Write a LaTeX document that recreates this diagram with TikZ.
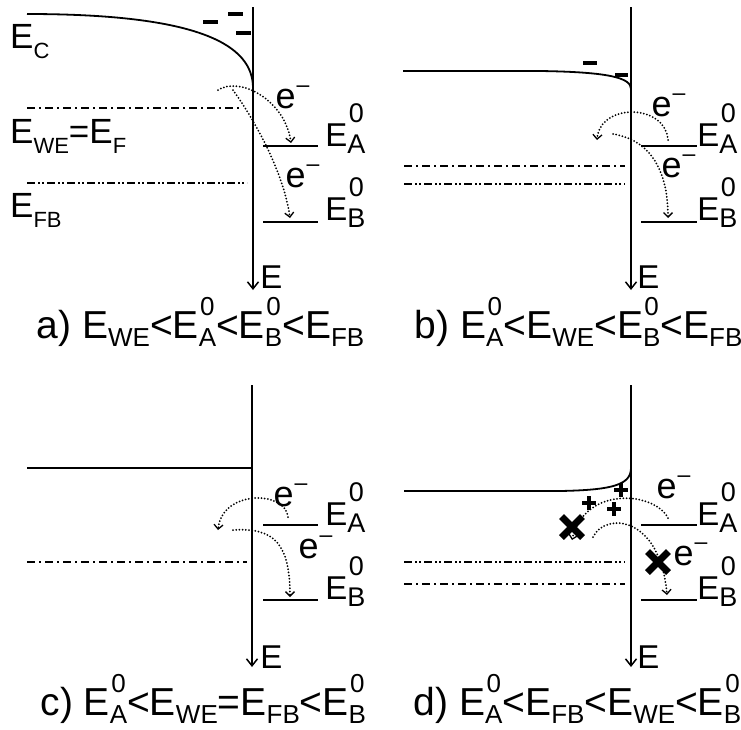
\documentclass[tikz,border=0pt]{standalone}
\usepackage{fontspec}
\setmainfont{Liberation Sans}
\usetikzlibrary{arrows.meta}

\newsavebox\subbox
\newcommand\SupSub[5]{\sbox\subbox{\fontsize{#1}{#1}\selectfont #3}%
\rlap{\makebox[\wd\subbox][c]{\raisebox{#4}{\fontsize{#1}{#1}\selectfont #2}}}%
\raisebox{-#5}{\usebox\subbox}}
\newcommand\bsub[1]{\raisebox{-10pt}{\fontsize{22}{22}\selectfont #1}}
\newcommand\csub[1]{\raisebox{-8pt}{\fontsize{26}{26}\selectfont #1}}
\newcommand\csupsub[2]{\SupSub{26}{#1}{#2}{23pt}{8pt}}
\newcommand\lsupsub[2]{\SupSub{27}{#1}{#2}{24pt}{7pt}}
\newcommand\eminus{e\hspace{1pt}\raisebox{16pt}{\fontsize{23}{23}\selectfont –}}

\tikzset{
  axisline/.style={line width=1.8pt,-{Straight Barb[length=7pt,width=11pt,line width=1.5pt]}},
  band/.style={line width=1.8pt},
  level/.style={line width=1.5pt},
  dashdot/.style={line width=1.4pt,dash pattern=on 8pt off 4pt on 2pt off 4pt},
  dashdotdot/.style={line width=1.4pt,dash pattern=on 8pt off 3pt on 2pt off 2pt on 2pt off 3pt},
  hop/.style={line width=2pt,line cap=round,dash pattern=on 0pt off 3.2pt,
    -{Straight Barb[length=4.5pt,width=9pt,line width=1.3pt]}},
  charge/.style={line width=3.6pt},
  pluscharge/.style={line width=4pt},
  cross/.style={line width=7pt},
  txt/.style={anchor=base west,inner sep=0pt,outer sep=0pt},
  biglab/.style={txt,font=\fontsize{35}{40}\selectfont},
  lvllab/.style={txt,font=\fontsize{33}{36}\selectfont},
  axlab/.style={txt,font=\fontsize{33}{36}\selectfont},
  elab/.style={txt,font=\fontsize{36}{40}\selectfont},
  caplab/.style={txt,font=\fontsize{39}{44}\selectfont},
}

\begin{document}
\begin{tikzpicture}[x=1pt,y=-1pt]
\useasboundingbox (0,0) rectangle (741,729);

% ---------------- panel a ----------------
\coordinate (aT) at (253,7); \coordinate (aB) at (253,290);
\draw[axisline] (aT) -- (aB);
\node[axlab] (aE) at (260.4,288) {E};
\coordinate (aC0) at (27,14); \coordinate (aC1) at (253,88);
\draw[band] (aC0) .. controls (200,14) and (253,45) .. (aC1);
\draw[charge] (203,22) -- (218,22);
\draw[charge] (228,14) -- (243,14);
\draw[charge] (236,33) -- (251,33);
\coordinate (aW0) at (27,108); \coordinate (aW1) at (240,108);
\draw[dashdot] (aW0) -- (aW1);
\coordinate (aF0) at (27,183); \coordinate (aF1) at (247,183);
\draw[dashdotdot] (aF0) -- (aF1);
\coordinate (aA0) at (263,146); \coordinate (aA1) at (318,146);
\draw[level] (aA0) -- (aA1);
\coordinate (aB0) at (263,222); \coordinate (aB1) at (318,222);
\draw[level] (aB0) -- (aB1);
\node[biglab] (aLC) at (10.2,48) {E\bsub{C}};
\node[biglab] (aLW) at (10.2,143) {E\bsub{WE}=E\bsub{F}};
\node[biglab] (aLF) at (10.2,217) {E\bsub{FB}};
\node[lvllab] (aLA) at (325.4,146) {E\lsupsub{0}{A}};
\node[lvllab] (aLB) at (325.4,220) {E\lsupsub{0}{B}};
\node[elab] (ae1) at (275.6,108) {\eminus};
\node[elab] (ae2) at (285.6,187) {\eminus};
\coordinate (ah1s) at (218,90); \coordinate (ah1e) at (291,143);
\draw[hop] (ah1s) .. controls (240,76) and (285,100) .. (ah1e);
\coordinate (ah2s) at (233,90); \coordinate (ah2e) at (290,218);
\draw[hop] (ah2s) .. controls (258,125) and (284,175) .. (ah2e);
\node[caplab] (acap) at (36.6,338) {a) E\csub{WE}<E\csupsub{0}{A}<E\csupsub{0}{B}<E\csub{FB}};

% ---------------- panel b ----------------
\coordinate (bT) at (631,7); \coordinate (bB) at (631,290);
\draw[axisline] (bT) -- (bB);
\node[axlab] (bE) at (637.4,288) {E};
\coordinate (bC0) at (403,71); \coordinate (bC1) at (631,89);
\draw[band] (bC0) -- (540,71) .. controls (610,72) and (631,78) .. (bC1);
\draw[charge] (583,63) -- (597,63);
\draw[charge] (615,75) -- (628,75);
\coordinate (bW0) at (404,166); \coordinate (bW1) at (625,166);
\draw[dashdot] (bW0) -- (bW1);
\coordinate (bF0) at (404,184); \coordinate (bF1) at (625,184);
\draw[dashdotdot] (bF0) -- (bF1);
\coordinate (bA0) at (641,146); \coordinate (bA1) at (697,146);
\draw[level] (bA0) -- (bA1);
\coordinate (bB0) at (641,222); \coordinate (bB1) at (697,222);
\draw[level] (bB0) -- (bB1);
\node[lvllab] (bLA) at (697.4,146) {E\lsupsub{0}{A}};
\node[lvllab] (bLB) at (697.4,220) {E\lsupsub{0}{B}};
\node[elab] (be1) at (651.6,116) {\eminus};
\node[elab] (be2) at (661.6,177) {\eminus};
\coordinate (bh1s) at (668,140); \coordinate (bh1e) at (597,140);
\draw[hop] (bh1s) .. controls (665,103) and (600,103) .. (bh1e);
\coordinate (bh2s) at (613,134); \coordinate (bh2e) at (668,218);
\draw[hop] (bh2s) .. controls (650,140) and (668,170) .. (bh2e);
\node[caplab] (bcap) at (414.7,338) {b) E\csupsub{0}{A}<E\csub{WE}<E\csupsub{0}{B}<E\csub{FB}};

% ---------------- panel c ----------------
\coordinate (cT) at (252,385); \coordinate (cB) at (252,667);
\draw[axisline] (cT) -- (cB);
\node[axlab] (cE) at (260.4,668) {E};
\coordinate (cC0) at (27,468); \coordinate (cC1) at (252,468);
\draw[band] (cC0) -- (cC1);
\coordinate (cW0) at (27,562); \coordinate (cW1) at (247,562);
\draw[dashdot] (cW0) -- (cW1);
\coordinate (cA0) at (263,525); \coordinate (cA1) at (318,525);
\draw[level] (cA0) -- (cA1);
\coordinate (cB0) at (263,600); \coordinate (cB1) at (318,600);
\draw[level] (cB0) -- (cB1);
\node[lvllab] (cLA) at (325.4,525) {E\lsupsub{0}{A}};
\node[lvllab] (cLB) at (325.4,599) {E\lsupsub{0}{B}};
\node[elab] (ce1) at (273.6,506) {\eminus};
\node[elab] (ce2) at (298.6,558) {\eminus};
\coordinate (ch1s) at (288,517); \coordinate (ch1e) at (218,530);
\draw[hop] (ch1s) .. controls (285,490) and (222,490) .. (ch1e);
\coordinate (ch2s) at (233,530); \coordinate (ch2e) at (290,597);
\draw[hop] (ch2s) .. controls (275,527) and (290,545) .. (ch2e);
\node[caplab] (ccap) at (40.5,715) {c) E\csupsub{0}{A}<E\csub{WE}=E\csub{FB}<E\csupsub{0}{B}};

% ---------------- panel d ----------------
\coordinate (dT) at (631,385); \coordinate (dB) at (631,667);
\draw[axisline] (dT) -- (dB);
\node[axlab] (dE) at (637.4,668) {E};
\coordinate (dC0) at (404,491); \coordinate (dC1) at (631,468);
\draw[band] (dC0) -- (560,491) .. controls (612,490) and (631,485) .. (dC1);
\coordinate (dF0) at (404,562); \coordinate (dF1) at (625,562);
\draw[dashdotdot] (dF0) -- (dF1);
\coordinate (dW0) at (404,584); \coordinate (dW1) at (625,584);
\draw[dashdot] (dW0) -- (dW1);
\coordinate (dA0) at (641,525); \coordinate (dA1) at (697,525);
\draw[level] (dA0) -- (dA1);
\coordinate (dB0) at (641,600); \coordinate (dB1) at (697,600);
\draw[level] (dB0) -- (dB1);
\node[lvllab] (dLA) at (697.4,525) {E\lsupsub{0}{A}};
\node[lvllab] (dLB) at (697.4,599) {E\lsupsub{0}{B}};
\node[elab] (de1) at (656.6,498) {\eminus};
\node[elab] (de2) at (673.6,565) {\eminus};
\coordinate (dh1s) at (668,518); \coordinate (dh1e) at (572,540);
\draw[hop] (dh1s) .. controls (655,492) and (585,485) .. (dh1e);
\coordinate (dh2s) at (593,537); \coordinate (dh2e) at (667,595);
\draw[hop] (dh2s) .. controls (605,512) and (660,515) .. (dh2e);
% plus charges
\foreach \px/\py in {621/490,589/503,614/509}{
  \draw[pluscharge] (\px-7,\py) -- (\px+7,\py);
  \draw[pluscharge] (\px,\py-7) -- (\px,\py+7);
}
% blocked marks
\foreach \cx/\cy in {572/527,658/562}{
  \draw[cross] (\cx-10.5,\cy-10.5) -- (\cx+10.5,\cy+10.5);
  \draw[cross] (\cx-10.5,\cy+10.5) -- (\cx+10.5,\cy-10.5);
}
\node[caplab] (dcap) at (413.6,715) {d) E\csupsub{0}{A}<E\csub{FB}<E\csub{WE}<E\csupsub{0}{B}};
\end{tikzpicture}
\end{document}
